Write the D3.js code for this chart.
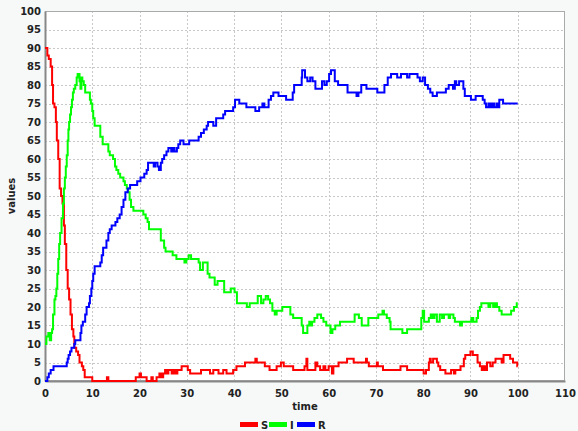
<!DOCTYPE html>
<html>
<head>
<meta charset="utf-8">
<script src="https://cdn.jsdelivr.net/npm/d3@7"></script>
<style>
  html, body { margin: 0; padding: 0; background: #f7f9f9; }
  svg { display: block; }
  text { font-family: "DejaVu Sans", Verdana, sans-serif; font-weight: bold; font-size: 10px; fill: #222; }
</style>
</head>
<body>
<svg id="chart" width="578" height="431"></svg>
<script>
// Stochastic SIR run: each series is a list of [time, count] change points (step function).
const susceptible = [
  [0,90],[0.5,88],[0.8,87],[1.2,85],[1.5,80],[1.7,75],[2.0,74],[2.3,70],[2.5,65],[2.8,60],
  [3.1,52],[3.4,50],[3.7,48],[4.0,42],[4.2,37],[4.5,30],[4.8,25],[5.1,22],[5.4,18],[5.7,14],
  [6.0,12],[6.2,9],[6.6,8],[7.0,7],[7.3,5],[7.8,4],[8.1,3],[8.4,1],[10.0,0],[13.1,1],[13.4,0],
  [19.2,1],[20.0,2],[20.3,1],[21.5,0],[22.5,1],[22.8,0],[23.6,1],[24.2,2],[24.6,1],[25.0,2],
  [25.4,3],[25.8,2],[26.1,3],[26.8,2],[27.2,3],[27.6,2],[28.0,3],[28.9,4],[30.2,3],[30.7,2],
  [33.0,3],[34.9,2],[35.6,3],[36.7,2],[37.7,3],[38.4,2],[39.8,3],[40.5,4],[42.3,5],[44.5,6],
  [44.8,5],[46.5,4],[47.5,3],[49.0,4],[49.9,5],[50.5,4],[52.5,3],[54.9,4],[55.3,6],[55.5,3],
  [57.2,5],[57.6,4],[58.2,3],[58.9,4],[59.3,3],[60.0,4],[60.7,2],[61.0,4],[62.1,5],[63.9,6],
  [65.3,5],[67.9,6],[68.1,5],[68.5,4],[70.2,5],[70.4,4],[71.5,3],[75.2,4],[76.6,3],[80.1,2],
  [80.6,3],[81.2,5],[81.4,6],[81.6,5],[82.1,6],[82.9,5],[83.2,4],[83.6,3],[84.7,2],[85.9,3],
  [86.5,2],[86.8,3],[87.9,4],[88.6,6],[88.9,7],[90.0,8],[90.5,7],[91.5,5],[92.0,4],[92.4,3],
  [92.8,4],[93.1,3],[93.5,5],[94.2,4],[94.7,5],[95.3,6],[96.6,5],[97.0,7],[98.4,6],[99.0,5],
  [99.9,4]
];

const infected = [
  [0,10],[0.3,12],[0.7,13],[1.0,11],[1.3,13],[1.5,14],[1.7,18],[2.0,22],[2.2,23],[2.4,25],
  [2.6,29],[2.8,33],[3.0,37],[3.2,40],[3.5,44],[3.8,48],[4.0,52],[4.2,55],[4.4,58],[4.6,61],
  [4.8,65],[4.95,68],[5.1,70],[5.3,72],[5.5,74],[5.7,76],[5.9,78],[6.1,79],[6.4,80],[6.7,82],
  [6.9,83],[7.3,81],[7.5,79],[7.7,82],[7.9,81],[8.2,80],[8.5,78],[9.5,76],[9.7,75],[10.0,73],
  [10.2,71],[10.5,69],[11.7,66],[12.2,64],[13.4,62],[13.7,61],[14.4,60],[14.8,58],[15.1,57],
  [15.5,56],[15.9,55],[16.6,54],[16.9,53],[17.3,52],[17.6,51],[17.9,49],[18.2,47],[18.7,46],
  [20.8,45],[21.3,44],[21.7,43],[22.0,41],[24.5,38],[25.2,36],[25.5,35],[27.0,34],[27.8,33],
  [29.5,32],[29.9,33],[30.4,34],[30.9,33],[32.5,32],[32.8,30],[33.4,32],[34.4,29],[34.8,28],
  [35.9,26],[36.5,27],[37.9,24],[39.3,25],[40.1,24],[40.6,21],[42.7,20],[43.3,21],[45.0,23],
  [45.7,21],[46.2,22],[46.7,23],[47.2,22],[47.6,21],[48.1,19],[48.6,18],[49.0,19],[50.2,20],
  [51.9,18],[52.5,17],[54.3,15],[54.6,13],[55.5,15],[55.9,16],[56.2,15],[56.5,16],[57.0,17],
  [57.6,18],[58.4,17],[58.9,16],[59.5,15],[60.4,13],[60.8,14],[61.4,15],[62.4,16],[65.5,18],
  [66.4,17],[67.0,15],[68.4,17],[70.5,18],[71.4,19],[71.7,18],[72.3,17],[72.9,16],[73.1,14],
  [75.6,13],[76.6,14],[79.6,17],[79.9,19],[80.2,16],[81.2,17],[81.6,18],[82.0,17],[82.4,18],
  [82.9,16],[83.5,18],[84.0,17],[84.4,18],[85.4,17],[85.7,18],[86.4,17],[86.7,16],[87.8,15],
  [88.2,16],[90.2,17],[90.6,16],[91.3,17],[91.6,19],[92.0,20],[92.3,21],[93.8,20],[94.2,21],
  [94.8,20],[95.2,21],[95.6,20],[96.1,19],[96.6,18],[98.6,19],[99.2,20],[99.8,21]
];

const recovered = [
  [0,0],[0.5,1],[0.8,2],[1.2,3],[1.8,4],[4.6,5],[4.8,6],[5.0,7],[5.3,8],[5.6,9],[6.2,10],
  [6.4,11],[7.5,13],[7.7,15],[8.0,16],[8.5,18],[8.8,20],[9.3,21],[9.5,23],[9.8,25],[10.0,27],
  [10.2,29],[10.5,31],[11.7,32],[12.0,34],[12.3,36],[13.0,38],[13.4,40],[13.7,41],[14.1,42],
  [14.9,43],[15.3,44],[15.8,45],[16.2,47],[16.6,49],[17.0,51],[17.5,52],[18.0,53],[19.5,54],
  [20.2,55],[21.0,56],[21.5,57],[21.8,59],[23.0,58],[23.3,59],[23.8,58],[24.1,57],[24.5,59],
  [24.8,60],[25.2,61],[25.7,62],[26.1,63],[26.7,62],[27.0,63],[27.4,62],[27.9,63],[28.2,64],
  [28.6,65],[29.3,64],[30.5,65],[32.5,66],[33.0,67],[33.6,68],[34.2,69],[34.5,70],[35.6,69],
  [36.2,71],[37.7,72],[38.1,73],[39.8,74],[40.2,76],[41.1,75],[42.6,74],[44.5,73],[45.3,74],
  [46.0,75],[46.4,74],[47.3,76],[47.8,77],[48.3,78],[49.4,77],[51.0,76],[52.4,78],[52.7,80],
  [54.3,82],[54.4,84],[55.0,82],[55.5,81],[56.1,82],[56.6,81],[57.2,79],[58.6,81],[59.1,80],
  [59.6,81],[60.1,83],[60.5,84],[61.3,81],[62.0,80],[64.0,78],[65.9,77],[66.3,78],[66.9,80],
  [68.0,79],[70.3,78],[71.8,80],[72.5,82],[73.2,83],[74.5,82],[75.3,83],[76.6,82],[77.1,83],
  [78.8,82],[79.3,81],[79.9,82],[80.4,80],[81.0,79],[81.5,78],[82.0,77],[82.9,78],[84.8,79],
  [85.4,80],[86.3,79],[86.7,81],[87.0,80],[87.6,81],[88.5,79],[88.8,77],[90.1,76],[91.1,77],
  [92.6,76],[93.0,75],[93.3,74],[93.8,75],[94.2,74],[94.6,75],[95.0,74],[95.5,75],[95.8,74],
  [96.1,76],[96.9,75]
];

const seriesNames = ["S", "I", "R"];
const seriesColors = ["#ff0000", "#00ff00", "#0000ff"];
const xTicks = d3.range(0, 111, 10);
const yTicks = d3.range(0, 101, 5);
const endTime = 100;

const svg = d3.select("#chart");
const W = 578, H = 431;
const margin = { top: 11, right: 13, bottom: 50, left: 45 };

const x = d3.scaleLinear().domain([0, 110]).range([margin.left, W - margin.right]);
const y = d3.scaleLinear().domain([0, 100]).range([H - margin.bottom, margin.top]);

// plot background
svg.append("rect")
  .attr("x", x(0)).attr("y", y(100))
  .attr("width", x(110) - x(0)).attr("height", y(0) - y(100))
  .attr("fill", "#ffffff");

// dotted grid
const grid = svg.append("g").attr("stroke", "#c8c8c8").attr("stroke-dasharray", "2,2").attr("stroke-width", 1);
grid.selectAll("line.gx").data(xTicks.filter(d => d > 0 && d < 110)).join("line")
  .attr("x1", d => Math.round(x(d)) + 0.5).attr("x2", d => Math.round(x(d)) + 0.5)
  .attr("y1", y(100)).attr("y2", y(0));
grid.selectAll("line.gy").data(yTicks.filter(d => d > 0 && d < 100)).join("line")
  .attr("y1", d => Math.round(y(d)) + 0.5).attr("y2", d => Math.round(y(d)) + 0.5)
  .attr("x1", x(0)).attr("x2", x(110));

// plot frame
svg.append("rect")
  .attr("x", x(0) + 0.5).attr("y", y(100) + 0.5)
  .attr("width", x(110) - x(0) - 1).attr("height", y(0) - y(100) - 1)
  .attr("fill", "none").attr("stroke", "#aaaaaa");

// axes
const xAxis = d3.axisBottom(x).tickValues(xTicks).tickSize(0).tickPadding(9);
const yAxis = d3.axisLeft(y).tickValues(yTicks).tickSize(0).tickPadding(4);

const gx = svg.append("g").attr("transform", `translate(0,${y(0)})`).call(xAxis);
const gy = svg.append("g").attr("transform", `translate(${x(0)},0)`).call(yAxis);
[gx, gy].forEach(g => {
  g.select(".domain").attr("stroke", "#888888").attr("stroke-width", 2);
  g.selectAll("text").attr("font-family", null).attr("font-size", null).attr("fill", "#222");
});

// series lines
const line = d3.line()
  .x(d => x(d[0]))
  .y(d => y(d[1]))
  .curve(d3.curveStepAfter);

[susceptible, infected, recovered].forEach((data, i) => {
  const pts = data.concat([[endTime, data[data.length - 1][1]]]);
  svg.append("path")
    .datum(pts)
    .attr("fill", "none")
    .attr("stroke", seriesColors[i])
    .attr("stroke-width", 2)
    .attr("d", line);
});

// axis titles
svg.append("text")
  .attr("x", (x(0) + x(110)) / 2).attr("y", 410)
  .attr("text-anchor", "middle")
  .text("time");

svg.append("text")
  .attr("transform", `translate(15,${(y(0) + y(100)) / 2}) rotate(-90)`)
  .attr("text-anchor", "middle")
  .text("values");

// legend
const legend = svg.append("g").attr("transform", "translate(240,0)");
const legendOffsets = [0, 29, 57];
seriesNames.forEach((name, i) => {
  const g = legend.append("g").attr("transform", `translate(${legendOffsets[i]},0)`);
  g.append("rect").attr("x", 0).attr("y", 422).attr("width", 18).attr("height", 5).attr("fill", seriesColors[i]);
  g.append("text").attr("x", 21).attr("y", 428.5).text(name);
});
</script>
</body>
</html>
